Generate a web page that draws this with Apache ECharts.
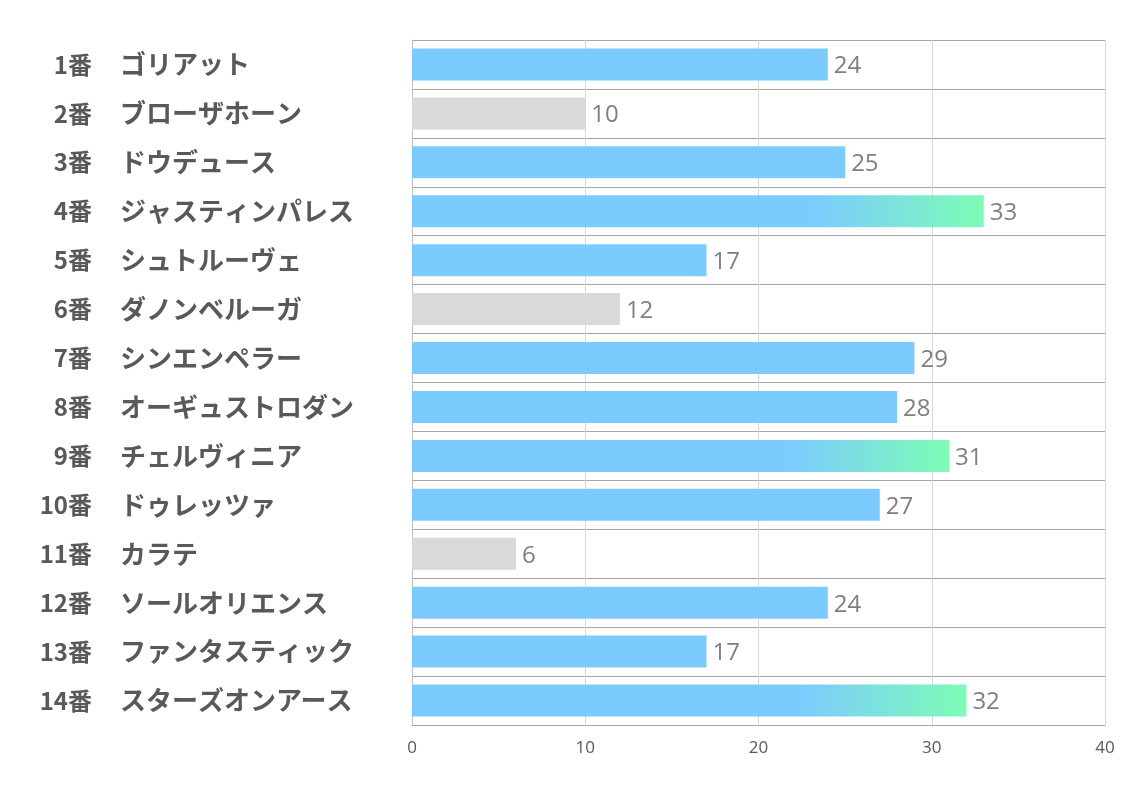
<!DOCTYPE html>
<html>
<head>
<meta charset="utf-8">
<script src="https://cdn.jsdelivr.net/npm/echarts@6/dist/echarts.min.js"></script>
<style>
html,body{margin:0;padding:0;background:#fff;}
#chart{width:1134px;height:793px;}
</style>
</head>
<body>
<div id="chart"></div>
<script>
const numbers = ["1番","2番","3番","4番","5番","6番","7番","8番","9番","10番","11番","12番","13番","14番"];
const names = ["ゴリアット","ブローザホーン","ドウデュース","ジャスティンパレス","シュトルーヴェ","ダノンベルーガ","シンエンペラー","オーギュストロダン","チェルヴィニア","ドゥレッツァ","カラテ","ソールオリエンス","ファンタスティック","スターズオンアース"];
const values = [24,10,25,33,17,12,29,28,31,27,6,24,17,32];
const xTicks = [0,10,20,30,40];

const BLUE = '#7ccbff';
const GRAY = '#d9d9d9';
const GREEN = '#7dfcb6';

function barColor(v){
  if (v >= 30) {
    return new echarts.graphic.LinearGradient(0,0,1,0,[
      {offset:0,color:BLUE},{offset:0.7,color:BLUE},{offset:1,color:GREEN}
    ]);
  }
  if (v <= 12) return GRAY;
  return BLUE;
}

const FONT = '"Noto Sans CJK JP", sans-serif';
const chart = echarts.init(document.getElementById('chart'));
chart.setOption({
  animation:false,
  grid:{left:412,right:29,top:40,bottom:68,containLabel:false},
  xAxis:{
    type:'value',min:xTicks[0],max:xTicks[xTicks.length-1],interval:10,
    axisLine:{show:true,lineStyle:{color:'#a6a6a6',width:1}},
    axisTick:{show:false},
    axisLabel:{color:'#595959',fontSize:17,margin:15,fontFamily:'"Open Sans", sans-serif'},
    splitLine:{show:true,lineStyle:{color:'#d9d9d9',width:1}}
  },
  yAxis:[{
    type:'category',inverse:true,data:numbers,position:'left',
    axisLine:{show:true,lineStyle:{color:'#bfbfbf',width:1}},
    axisTick:{show:false},
    splitLine:{show:true,lineStyle:{color:'#a6a6a6',width:1}},
    axisLabel:{margin:320,align:'right',fontSize:24,fontWeight:'bold',color:'#595959',fontFamily:FONT}
  },{
    type:'category',inverse:true,data:names,position:'left',offset:0,
    axisLine:{show:false},
    axisTick:{show:false},
    splitLine:{show:false},
    axisLabel:{margin:292,align:'left',fontSize:26,fontWeight:'bold',color:'#595959',fontFamily:FONT}
  }],
  series:[{
    type:'bar',
    yAxisIndex:0,
    data:values.map(v=>({value:v,itemStyle:{color:barColor(v)}})),
    barWidth:32,
    label:{show:true,position:'right',distance:6,offset:[0,2],color:'#7f7f7f',fontSize:24,fontFamily:'"Open Sans", sans-serif'}
  }]
});
</script>
</body>
</html>
